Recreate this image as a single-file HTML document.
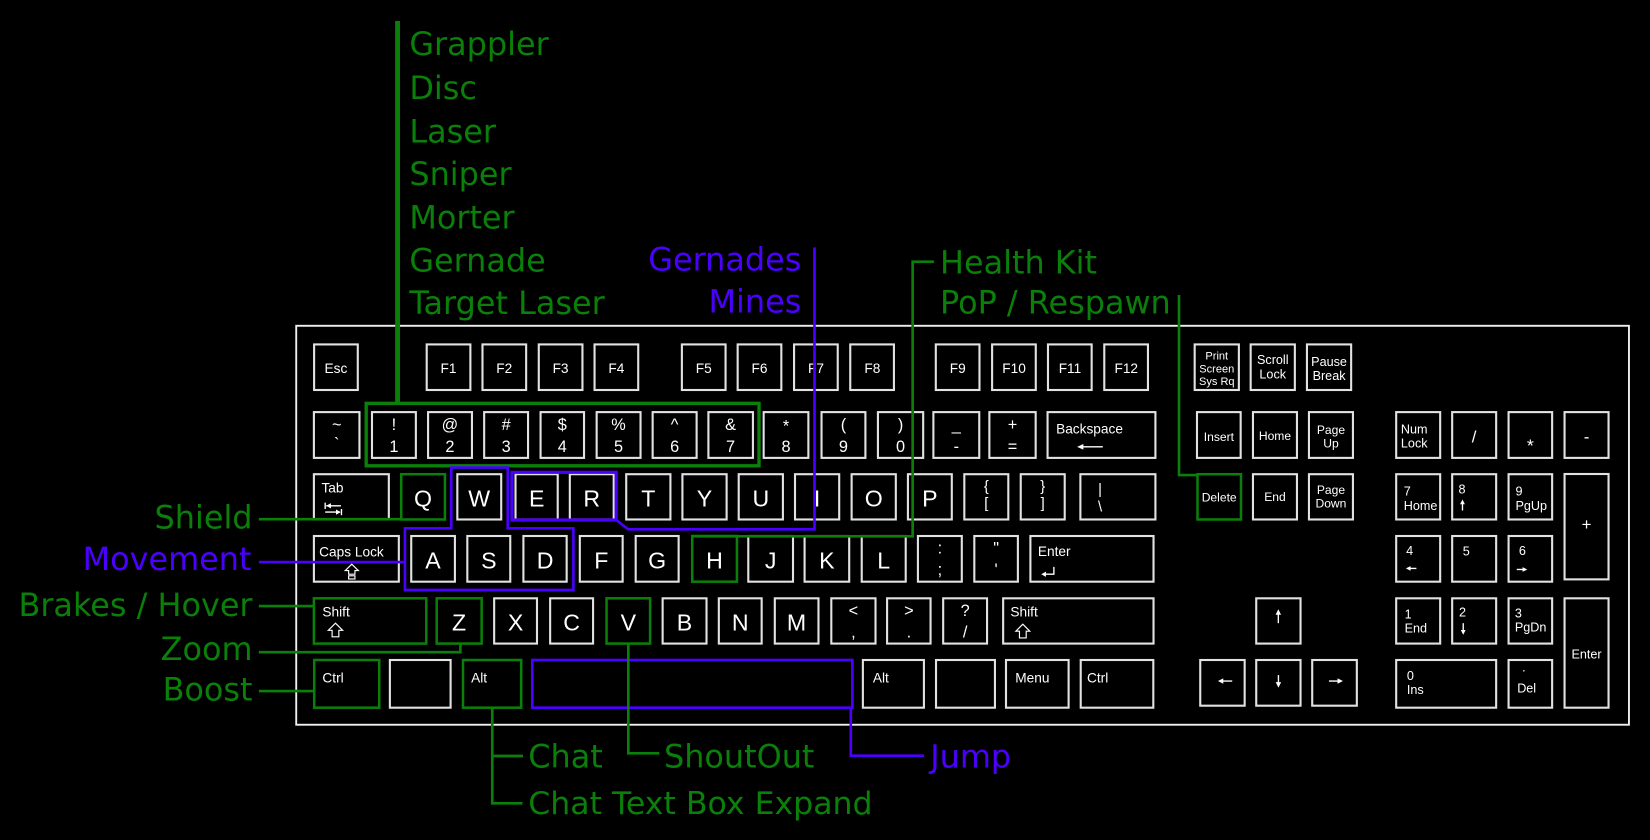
<!DOCTYPE html>
<html>
<head>
<meta charset="utf-8">
<style>
html,body{margin:0;padding:0;background:#000;overflow:hidden;width:1650px;height:840px}
svg{display:block}
.k{fill:none;stroke:#e2e2e2;stroke-width:2}
.kg{fill:none;stroke:#0a7f0a;stroke-width:2.4}
.gl{fill:none;stroke:#0a7f0a;stroke-width:2.5}
.pl{fill:none;stroke:#4b00ff;stroke-width:2.5}
.L{font-family:"DejaVu Sans",sans-serif;font-size:30.3px}
.G{fill:#0a7f0a}
.P{fill:#4b00ff}
.kt{font-family:"Liberation Sans",Arial,sans-serif;fill:#fff}
.c{text-anchor:middle}
.e{text-anchor:end}
.big{font-size:22px}
.num{font-size:15.5px}
.s13{font-size:13px}
.s12{font-size:12px}
.s11{font-size:11.5px}
.s10{font-size:10.5px}
.ar{stroke:#fff;stroke-width:1.3;fill:none}
.ah{fill:#fff;stroke:none}
</style>
</head>
<body>
<svg width="1650" height="840" viewBox="0 0 1568 798" preserveAspectRatio="none" xmlns="http://www.w3.org/2000/svg">
<rect x="0" y="0" width="1568" height="798" fill="#000"/>

<rect x="281.5" y="309.5" width="1266.5" height="379" fill="none" stroke="#f0f0f0" stroke-width="1.8"/>

<!-- ROW 1 -->
<rect class="k" x="298.5" y="327.2" width="41.5" height="43.3"/>
<rect class="k" x="405.5" y="327.2" width="41.5" height="43.3"/>
<rect class="k" x="458.5" y="327.2" width="41.5" height="43.3"/>
<rect class="k" x="512" y="327.2" width="41.5" height="43.3"/>
<rect class="k" x="565" y="327.2" width="41.5" height="43.3"/>
<rect class="k" x="648" y="327.2" width="41.5" height="43.3"/>
<rect class="k" x="701" y="327.2" width="41.5" height="43.3"/>
<rect class="k" x="754.6" y="327.2" width="41.5" height="43.3"/>
<rect class="k" x="808" y="327.2" width="41.5" height="43.3"/>
<rect class="k" x="889.3" y="327.2" width="41.5" height="43.3"/>
<rect class="k" x="942.8" y="327.2" width="41.5" height="43.3"/>
<rect class="k" x="995.9" y="327.2" width="41.5" height="43.3"/>
<rect class="k" x="1049.4" y="327.2" width="41.5" height="43.3"/>
<rect class="k" x="1135.3" y="327.2" width="42" height="43.3"/>
<rect class="k" x="1188.5" y="327.2" width="42" height="43.3"/>
<rect class="k" x="1242" y="327.2" width="42" height="43.3"/>
<g class="kt c s13">
<text x="319.2" y="354.3">Esc</text>
<text x="426.2" y="354.3">F1</text>
<text x="479.2" y="354.3">F2</text>
<text x="532.7" y="354.3">F3</text>
<text x="585.7" y="354.3">F4</text>
<text x="668.8" y="354.3">F5</text>
<text x="721.8" y="354.3">F6</text>
<text x="775.5" y="354.3">F7</text>
<text x="829" y="354.3">F8</text>
<text x="910.2" y="354.3">F9</text>
<text x="963.7" y="354.3">F10</text>
<text x="1016.8" y="354.3">F11</text>
<text x="1070.3" y="354.3">F12</text>
</g>
<g class="kt c s10">
<text x="1156.3" y="341.4">Print</text>
<text x="1156.3" y="353.7">Screen</text>
<text x="1156.3" y="365.7">Sys Rq</text>
</g>
<g class="kt c s12">
<text x="1209.5" y="346">Scroll</text>
<text x="1209.5" y="359.4">Lock</text>
<text x="1263" y="347.7">Pause</text>
<text x="1263" y="361">Break</text>
</g>

<!-- ROW 2 -->
<rect class="k" x="298.3" y="391.5" width="43.3" height="43.5"/>
<rect class="k" x="353.5" y="391.5" width="41.7" height="43.5"/>
<rect class="k" x="406.8" y="391.5" width="41.7" height="43.5"/>
<rect class="k" x="460.1" y="391.5" width="41.7" height="43.5"/>
<rect class="k" x="513.7" y="391.5" width="41.3" height="43.5"/>
<rect class="k" x="567" y="391.5" width="41.7" height="43.5"/>
<rect class="k" x="620.2" y="391.5" width="41.8" height="43.5"/>
<rect class="k" x="673.2" y="391.5" width="42.3" height="43.5"/>
<rect class="k" x="725.7" y="391.5" width="42.5" height="43.5"/>
<rect class="k" x="780.7" y="391.5" width="41.7" height="43.5"/>
<rect class="k" x="834.3" y="391.5" width="43" height="43.5"/>
<rect class="k" x="887" y="391.5" width="43.6" height="43.5"/>
<rect class="k" x="940.2" y="391.5" width="44" height="43.5"/>
<rect class="k" x="995.5" y="391.5" width="102.5" height="43.5"/>
<rect class="k" x="1137.5" y="391.5" width="41.5" height="43.5"/>
<rect class="k" x="1190.7" y="391.5" width="41.8" height="43.5"/>
<rect class="k" x="1243.9" y="391.5" width="41.8" height="43.5"/>
<rect class="k" x="1326.8" y="391.5" width="41.8" height="43.5"/>
<rect class="k" x="1380" y="391.5" width="41.8" height="43.5"/>
<rect class="k" x="1433.6" y="391.5" width="41.4" height="43.5"/>
<rect class="k" x="1486.8" y="391.5" width="41.8" height="43.5"/>
<g class="kt c num">
<text x="320" y="408.5">~</text><text x="320" y="427">`</text>
<text x="374.3" y="408.5">!</text><text x="374.3" y="429.2">1</text>
<text x="427.6" y="408.5">@</text><text x="427.6" y="429.2">2</text>
<text x="481" y="408.5">#</text><text x="481" y="429.2">3</text>
<text x="534.3" y="408.5">$</text><text x="534.3" y="429.2">4</text>
<text x="587.8" y="408.5">%</text><text x="587.8" y="429.2">5</text>
<text x="641.1" y="408.5">^</text><text x="641.1" y="429.2">6</text>
<text x="694.3" y="408.5">&amp;</text><text x="694.3" y="429.2">7</text>
<text x="747" y="410">*</text><text x="747" y="429.2">8</text>
<text x="801.5" y="408.5">(</text><text x="801.5" y="429.2">9</text>
<text x="855.8" y="408.5">)</text><text x="855.8" y="429.2">0</text>
<text x="908.8" y="408.5">_</text><text x="908.8" y="429.2">-</text>
<text x="962.2" y="408.5">+</text><text x="962.2" y="429.2">=</text>
</g>
<text class="kt s13" x="1003.6" y="411.7">Backspace</text>
<path class="ar" d="M1048 424.5 H1026"/>
<path class="ah" d="M1023.6 424.5 L1029.5 421.8 L1029.5 427.2 Z"/>
<g class="kt c s11">
<text x="1158.3" y="419">Insert</text>
<text x="1211.6" y="418">Home</text>
<text x="1264.8" y="412.3">Page</text>
<text x="1264.8" y="425">Up</text>
</g>
<g class="kt s12">
<text x="1331.3" y="411.7">Num</text>
<text x="1331.3" y="425">Lock</text>
</g>
<text class="kt c" style="font-size:16px" x="1400.9" y="420.5">/</text>
<text class="kt c" style="font-size:17px" x="1454.3" y="429">*</text>
<text class="kt c" style="font-size:16px" x="1507.7" y="420.5">-</text>

<!-- ROW 3 -->
<rect class="k" x="298.3" y="450.5" width="71.2" height="43"/>
<rect class="kg" x="381.3" y="450.5" width="41.5" height="43"/>
<rect class="k" x="434.6" y="450.5" width="41.7" height="43"/>
<rect class="k" x="489.9" y="450.5" width="40.1" height="43"/>
<rect class="k" x="541.5" y="450.5" width="41.7" height="43"/>
<rect class="k" x="595.1" y="450.5" width="42" height="43"/>
<rect class="k" x="648.5" y="450.5" width="42" height="43"/>
<rect class="k" x="702" y="450.5" width="42" height="43"/>
<rect class="k" x="755.5" y="450.5" width="42" height="43"/>
<rect class="k" x="809.3" y="450.5" width="42" height="43"/>
<rect class="k" x="862.8" y="450.5" width="41.7" height="43"/>
<rect class="k" x="916.4" y="450.5" width="41.8" height="43"/>
<rect class="k" x="970" y="450.5" width="41.8" height="43"/>
<rect class="k" x="1026.7" y="450.5" width="71.3" height="43"/>
<rect class="kg" x="1138" y="450.5" width="41.3" height="43"/>
<rect class="k" x="1190.7" y="450.5" width="41.8" height="43"/>
<rect class="k" x="1243.9" y="450.5" width="41.8" height="43"/>
<rect class="k" x="1326.8" y="450.5" width="41.8" height="43"/>
<rect class="k" x="1380" y="450.5" width="41.8" height="43"/>
<rect class="k" x="1433.6" y="450.5" width="41.4" height="43"/>
<rect class="k" x="1486.8" y="450.3" width="41.8" height="100.1"/>
<text class="kt s13" x="305.5" y="467.7">Tab</text>
<path class="ar" d="M309 477.5 V483.5 M310 480.5 H324"/>
<path class="ah" d="M310 480.5 L314.5 478 L314.5 483 Z"/>
<path class="ar" d="M324.5 483.5 V489.5 M309 486.5 H323"/>
<path class="ah" d="M323.8 486.5 L319.3 484 L319.3 489 Z"/>
<g class="kt c big">
<text x="402" y="481.3">Q</text>
<text x="455.4" y="481.3">W</text>
<text x="510" y="481.3">E</text>
<text x="562.3" y="481.3">R</text>
<text x="616.1" y="481.3">T</text>
<text x="669.5" y="481.3">Y</text>
<text x="723" y="481.3">U</text>
<text x="776.5" y="481.3">I</text>
<text x="830.3" y="481.3">O</text>
<text x="883.6" y="481.3">P</text>
</g>
<g class="kt c" style="font-size:14px">
<text x="937.3" y="466.5">{</text><text x="937.3" y="482.5">[</text>
<text x="990.9" y="466.5">}</text><text x="990.9" y="482.5">]</text>
<text x="1045.4" y="469.5">|</text><text x="1045.4" y="486">\</text>
</g>
<g class="kt c s11">
<text x="1158.6" y="476.6">Delete</text>
<text x="1211.6" y="476">End</text>
<text x="1264.8" y="469.3">Page</text>
<text x="1264.8" y="482.3">Down</text>
</g>
<g class="kt s12">
<text x="1334" y="470.9">7</text><text x="1334" y="484.5">Home</text>
<text x="1386" y="468.7">8</text>
<text x="1440.2" y="470.9">9</text><text x="1440.2" y="484.5">PgUp</text>
</g>
<path class="ar" d="M1389.8 485 V477"/>
<path class="ah" d="M1389.8 474.5 L1387.5 479 L1392.1 479 Z"/>
<text class="kt c" style="font-size:16px" x="1507.7" y="503.5">+</text>

<!-- ROW 4 -->
<rect class="k" x="298.3" y="509.2" width="80.7" height="43.4"/>
<rect class="k" x="390.8" y="509.2" width="41.5" height="43.4"/>
<rect class="k" x="444.1" y="509.2" width="40.8" height="43.4"/>
<rect class="k" x="497.4" y="509.2" width="41.1" height="43.4"/>
<rect class="k" x="551" y="509.2" width="40.7" height="43.4"/>
<rect class="k" x="604.1" y="509.2" width="40.8" height="43.4"/>
<rect class="kg" x="657.8" y="509.2" width="42.5" height="43.4"/>
<rect class="k" x="711.1" y="509.2" width="42.5" height="43.4"/>
<rect class="k" x="764.6" y="509.2" width="42.4" height="43.4"/>
<rect class="k" x="818.9" y="509.2" width="41.8" height="43.4"/>
<rect class="k" x="872.3" y="509.2" width="41.7" height="43.4"/>
<rect class="k" x="925.9" y="509.2" width="41.4" height="43.4"/>
<rect class="k" x="979.2" y="509.2" width="117" height="43.4"/>
<rect class="k" x="1326.8" y="509.2" width="41.8" height="43.4"/>
<rect class="k" x="1380" y="509.2" width="41.8" height="43.4"/>
<rect class="k" x="1433.6" y="509.2" width="41.4" height="43.4"/>
<text class="kt s13" x="303.3" y="528.8">Caps Lock</text>
<path d="M334.3 536 L340.5 542 L337.3 542 L337.3 545.5 L331.3 545.5 L331.3 542 L328.1 542 Z" fill="none" stroke="#fff" stroke-width="1.1"/>
<rect x="331.3" y="547" width="6" height="3" fill="none" stroke="#fff" stroke-width="1.1"/>
<g class="kt c big">
<text x="411.5" y="540">A</text>
<text x="464.5" y="540">S</text>
<text x="518" y="540">D</text>
<text x="571.4" y="540">F</text>
<text x="624.5" y="540">G</text>
<text x="679" y="540">H</text>
<text x="732.4" y="540">J</text>
<text x="785.8" y="540">K</text>
<text x="839.8" y="540">L</text>
</g>
<g class="kt c num">
<text x="893.2" y="526">:</text><text x="893.2" y="546.2">;</text>
<text x="946.6" y="526">"</text><text x="946.6" y="546.2">'</text>
</g>
<text class="kt s13" x="986.3" y="528.2">Enter</text>
<path class="ar" d="M1001.5 538.5 V545.5 H992"/>
<path class="ah" d="M989.5 545.5 L994 543 L994 548 Z"/>
<g class="kt s12">
<text x="1336.3" y="527.3">4</text>
<text x="1390" y="527.6">5</text>
<text x="1443.4" y="527.3">6</text>
</g>
<path class="ar" d="M1346 540 H1338.5"/>
<path class="ah" d="M1336 540 L1340.5 537.8 L1340.5 542.2 Z"/>
<path class="ar" d="M1441.4 541 H1449"/>
<path class="ah" d="M1451.4 541 L1446.9 538.8 L1446.9 543.2 Z"/>

<!-- ROW 5 -->
<rect class="kg" x="298.3" y="568.4" width="106.8" height="43"/>
<rect class="kg" x="415" y="568.4" width="42.7" height="43"/>
<rect class="k" x="469.6" y="568.4" width="40.7" height="43"/>
<rect class="k" x="522.8" y="568.4" width="40.8" height="43"/>
<rect class="kg" x="576.4" y="568.4" width="41.4" height="43"/>
<rect class="k" x="629.7" y="568.4" width="41.7" height="43"/>
<rect class="k" x="683.1" y="568.4" width="40.7" height="43"/>
<rect class="k" x="736.3" y="568.4" width="41.5" height="43"/>
<rect class="k" x="790" y="568.4" width="42" height="43"/>
<rect class="k" x="843" y="568.4" width="41.3" height="43"/>
<rect class="k" x="896.3" y="568.4" width="41.7" height="43"/>
<rect class="k" x="953.3" y="568.4" width="142.9" height="43"/>
<rect class="k" x="1193.8" y="568.4" width="42.1" height="43"/>
<rect class="k" x="1326.8" y="568.4" width="41.8" height="43"/>
<rect class="k" x="1380" y="568.4" width="41.8" height="43"/>
<rect class="k" x="1433.6" y="568.4" width="41.4" height="43"/>
<rect class="k" x="1486.8" y="568.4" width="41.8" height="103.9"/>
<text class="kt s13" x="306.4" y="585.5">Shift</text>
<path d="M318.8 592 L325.6 598.8 L322 598.8 L322 605 L315.6 605 L315.6 598.8 L312 598.8 Z" fill="none" stroke="#fff" stroke-width="1.1"/>
<g class="kt c big">
<text x="436.3" y="598.8">Z</text>
<text x="490" y="598.8">X</text>
<text x="543.2" y="598.8">C</text>
<text x="597.1" y="598.8">V</text>
<text x="650.5" y="598.8">B</text>
<text x="703.5" y="598.8">N</text>
<text x="757" y="598.8">M</text>
</g>
<g class="kt c num">
<text x="811" y="585.2">&lt;</text><text x="811" y="605.4">,</text>
<text x="863.7" y="585.2">&gt;</text><text x="863.7" y="605.4">.</text>
<text x="917.2" y="585.2">?</text><text x="917.2" y="605.4">/</text>
</g>
<text class="kt s13" x="960.2" y="585.9">Shift</text>
<path d="M972 593 L978.6 599.6 L975.2 599.6 L975.2 606 L968.8 606 L968.8 599.6 L965.4 599.6 Z" fill="none" stroke="#fff" stroke-width="1.1"/>
<path class="ar" d="M1214.8 592 V581.5"/>
<path class="ah" d="M1214.8 578.8 L1212.2 584 L1217.4 584 Z"/>
<g class="kt s12">
<text x="1334.8" y="587.4">1</text><text x="1334.8" y="601">End</text>
<text x="1386.5" y="585.8">2</text>
<text x="1439.6" y="586.5">3</text><text x="1439.6" y="600">PgDn</text>
</g>
<path class="ar" d="M1390.5 592 V600.5"/>
<path class="ah" d="M1390.5 603 L1388.2 598.5 L1392.8 598.5 Z"/>
<text class="kt c s12" x="1507.7" y="625.4">Enter</text>

<!-- ROW 6 -->
<rect class="kg" x="298.6" y="627" width="61.8" height="45.3"/>
<rect class="k" x="370.5" y="627" width="57.7" height="45.3"/>
<rect class="kg" x="440" y="627" width="55.3" height="45.3"/>
<rect class="k" x="820" y="627" width="58" height="45.3"/>
<rect class="k" x="889.5" y="627" width="56" height="45.3"/>
<rect class="k" x="956" y="627" width="59.5" height="45.3"/>
<rect class="k" x="1027" y="627" width="69" height="45.3"/>
<rect class="k" x="1140.6" y="627" width="42.2" height="43.4"/>
<rect class="k" x="1193.8" y="627" width="42.1" height="43.4"/>
<rect class="k" x="1247" y="627" width="42.4" height="43.4"/>
<rect class="k" x="1326.8" y="627" width="95" height="45.3"/>
<rect class="k" x="1433.6" y="627" width="41.4" height="45.3"/>
<rect x="505.8" y="627" width="304.2" height="45.3" class="pl"/>
<g class="kt s13">
<text x="306.4" y="648.5">Ctrl</text>
<text x="447.7" y="648.5">Alt</text>
<text x="829.5" y="648.5">Alt</text>
<text x="964.8" y="648.5">Menu</text>
<text x="1033" y="648.5">Ctrl</text>
</g>
<path class="ar" d="M1171 647 H1160"/>
<path class="ah" d="M1157.4 647 L1162.5 644.4 L1162.5 649.6 Z"/>
<path class="ar" d="M1214.9 641.3 V650.5"/>
<path class="ah" d="M1214.9 653.2 L1212.3 648 L1217.5 648 Z"/>
<path class="ar" d="M1262.9 647 H1273.5"/>
<path class="ah" d="M1276.2 647 L1271.1 644.4 L1271.1 649.6 Z"/>
<g class="kt s12">
<text x="1337" y="646">0</text><text x="1337" y="659.3">Ins</text>
<text x="1446.5" y="638">.</text><text x="1441.8" y="658">Del</text>
</g>

<!-- GREEN -->
<rect x="348" y="383.2" width="373.3" height="59.3" fill="none" stroke="#0a7f0a" stroke-width="3.2"/>
<line x1="377.8" y1="20" x2="377.8" y2="383" stroke="#0a7f0a" stroke-width="4.6"/>
<path class="gl" d="M887.5 248.6 H867.3 V509.5 H658"/>
<path class="gl" d="M1120.4 280.3 V451.3 H1138"/>
<path class="gl" d="M246 493.2 H382"/>
<path class="gl" d="M246 575.8 H298.5"/>
<path class="gl" d="M246 619.6 H437.5 V611.4"/>
<path class="gl" d="M246 656.5 H298.6"/>
<path class="gl" d="M467.8 672.5 V763.2 H496.5 M467.8 718.2 H497"/>
<path class="gl" d="M597.1 611.4 V715.7 H626.5"/>

<!-- PURPLE -->
<polygon class="pl" points="384.8,501.9 428.8,501.9 428.8,444.2 482.5,444.2 482.5,501.9 544.9,501.9 544.9,560.5 384.8,560.5"/>
<rect x="486.5" y="448.7" width="99.1" height="45.3" fill="none" stroke="#4b00ff" stroke-width="3"/>
<path class="pl" d="M585.6 494 L597 502.9 H774 V235"/>
<path class="pl" d="M246 534 H385"/>
<path class="pl" d="M808.5 672.3 V717.9 H878"/>

<!-- LABELS -->
<g class="L G">
<text x="389" y="52.3">Grappler</text>
<text x="389" y="94">Disc</text>
<text x="389" y="135.5">Laser</text>
<text x="389" y="176">Sniper</text>
<text x="389" y="217.2">Morter</text>
<text x="389" y="258.1">Gernade</text>
<text x="389" y="298.3">Target Laser</text>
<text x="893.3" y="259.7">Health Kit</text>
<text x="893.3" y="297.7">PoP / Respawn</text>
<text class="e" x="240" y="502">Shield</text>
<text class="e" x="240" y="585">Brakes / Hover</text>
<text class="e" x="240" y="627">Zoom</text>
<text class="e" x="240" y="665.6">Boost</text>
<text x="502" y="729.3">Chat</text>
<text x="631" y="729.3">ShoutOut</text>
<text x="502" y="773.3" style="font-size:30px">Chat Text Box Expand</text>
</g>
<g class="L P">
<text class="e" x="761.5" y="257.1">Gernades</text>
<text class="e" x="761.5" y="296.7">Mines</text>
<text class="e" x="239" y="541.5">Movement</text>
<text x="884" y="729.3">Jump</text>
</g>
</svg>
</body>
</html>
